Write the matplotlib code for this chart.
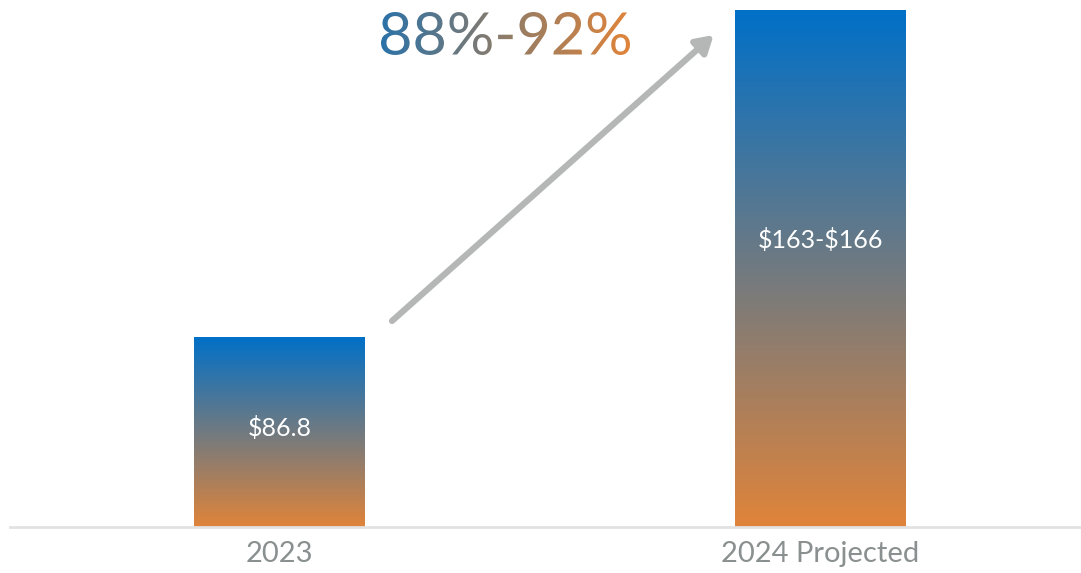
import numpy as np
import matplotlib
matplotlib.use("Agg")
import matplotlib.pyplot as plt
from matplotlib.colors import LinearSegmentedColormap
from matplotlib.textpath import TextPath
from matplotlib.font_manager import FontProperties
from matplotlib.patches import PathPatch
from matplotlib.transforms import Affine2D

# ---- data ----
categories = ["2023", "2024 Projected"]
values_low = [86.8, 163]
values_high = [86.8, 166]
bar_labels = ["$86.8", "$163-$166"]
growth_label = "88%-92%"

# ---- style ----
BLUE = "#0070c8"
ORANGE = "#e0843a"
TEXT_BLUE = "#2b72a8"
TEXT_ORANGE = "#e0843a"
TICK_GRAY = "#8a8f8f"
AXIS_GRAY = "#e2e2e2"
ARROW_GRAY = "#b5b7b7"

plt.rcParams['font.family'] = ['Lato', 'DejaVu Sans']
plt.rcParams['text.parse_math'] = False

W, H = 1081, 573
fig = plt.figure(figsize=(W / 100, H / 100), dpi=100)
ax = fig.add_axes([10 / W, (H - 527) / H, (W - 10) / W, 527 / H])

x = np.arange(len(categories))
width = 0.316
XLIM = (-0.498, 1.4815)
YLIM = (40.78, 168.42)
ax.set_xlim(*XLIM)
ax.set_ylim(*YLIM)

bar_cmap = LinearSegmentedColormap.from_list("bar", [ORANGE, BLUE])
grad = np.linspace(0, 1, 256).reshape(-1, 1)
bars = ax.bar(x, values_high, width=width, color="none", edgecolor="none",
              bottom=0, zorder=2)
ymin = YLIM[0]
for rect in bars:
    x0 = rect.get_x()
    x1 = x0 + rect.get_width()
    top = rect.get_height()
    im = ax.imshow(grad, cmap=bar_cmap, aspect="auto", origin="lower",
                   extent=(x0, x1, ymin, top), zorder=2, interpolation="bilinear")
    im.set_clip_path(rect)
ax.set_xlim(*XLIM)
ax.set_ylim(*YLIM)

# value labels inside bars
label_y = [values_high[0] - (values_high[0] - ymin) * 0.48,
           values_high[1] - (values_high[1] - ymin) * 0.445]
for xi, lab, ly in zip(x, bar_labels, label_y):
    ax.text(xi, ly, lab, ha="center", va="center", color="white",
            fontsize=18, zorder=3)

# axes styling
for s in ["top", "right", "left"]:
    ax.spines[s].set_visible(False)
ax.spines["bottom"].set_color(AXIS_GRAY)
ax.spines["bottom"].set_linewidth(2)
ax.set_yticks([])
ax.set_xticks(x)
ax.set_xticklabels(categories, fontsize=21, color=TICK_GRAY)
ax.tick_params(axis="x", length=0, pad=10)

# arrow
ax.annotate("", xy=(0.657, 0.9336), xytext=(0.3567, 0.391),
            xycoords="axes fraction", textcoords="axes fraction",
            arrowprops=dict(arrowstyle="-|>,head_length=1.0,head_width=0.6",
                            color=ARROW_GRAY, lw=4.5, shrinkA=0, shrinkB=0),
            zorder=4)

# gradient headline text
ov = fig.add_axes([0, 0, 1, 1])
ov.set_xlim(0, W)
ov.set_ylim(0, H)
ov.axis("off")
ov.patch.set_alpha(0)
fp = FontProperties(family="Lato", weight="normal")
tp = TextPath((0, 0), growth_label, size=60, prop=fp)
bb = tp.get_extents()
sx = (630 - 381) / bb.width
sy = (55 - 12) / bb.height
tr = Affine2D().scale(sx, sy).translate(381 - bb.x0 * sx, (H - 55) - bb.y0 * sy)
path = tr.transform_path(tp)
pbb = path.get_extents()
patch = PathPatch(path, facecolor="none", edgecolor="none")
ov.add_patch(patch)
text_cmap = LinearSegmentedColormap.from_list("txt", [TEXT_BLUE, "#8f7c68", TEXT_ORANGE])
hgrad = np.linspace(0, 1, 256).reshape(1, -1)
im2 = ov.imshow(hgrad, cmap=text_cmap, aspect="auto",
                extent=(pbb.x0, pbb.x1, pbb.y0, pbb.y1), interpolation="bilinear")
im2.set_clip_path(patch)
ov.set_xlim(0, W)
ov.set_ylim(0, H)

fig.savefig("out.png", dpi=100)
